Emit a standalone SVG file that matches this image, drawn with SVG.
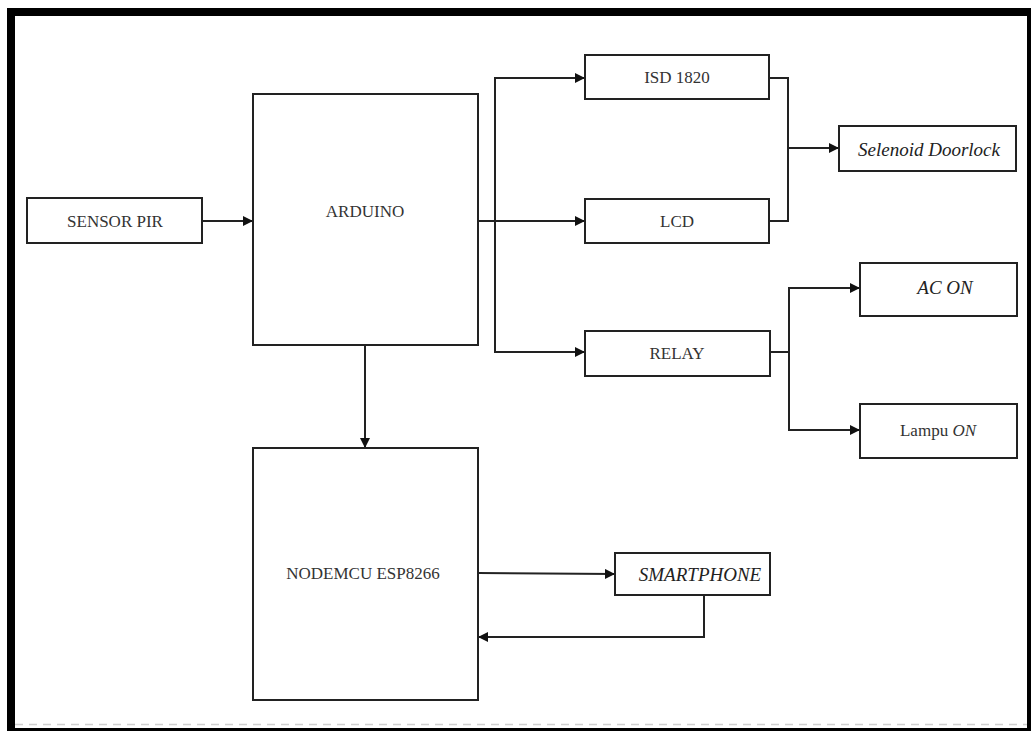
<svg xmlns="http://www.w3.org/2000/svg" width="1031" height="731" viewBox="0 0 1031 731">
<style>
.box{fill:#fff;stroke:#222;stroke-width:2}
.t{font-family:"Liberation Serif","Times New Roman",serif;font-size:17px;fill:#333;text-anchor:middle;dominant-baseline:central}
.i{font-style:italic;fill:#222;font-size:19px}
.c{fill:none;stroke:#222;stroke-width:2}
</style>
<defs>
<marker id="ah" viewBox="0 0 10 10" refX="10" refY="5" markerWidth="5" markerHeight="5" orient="auto" markerUnits="strokeWidth">
<path d="M0,0 L10,5 L0,10 z" fill="#111"/>
</marker>
</defs>
<rect width="1031" height="731" fill="#fff"/>
<g id="frame">
<rect x="7" y="8" width="1024" height="8" fill="#000"/>
<rect x="7" y="8" width="8" height="723" fill="#000"/>
<rect x="1027" y="8" width="4" height="723" fill="#000"/>
<rect x="7" y="728" width="1024" height="3" fill="#000"/>
<line x1="15" y1="724.5" x2="1027" y2="724.5" stroke="#d0d0d0" stroke-width="1.5" stroke-dasharray="8,6"/>
</g>
<g id="connectors">
<line class="c" x1="202" y1="221" x2="253" y2="221" marker-end="url(#ah)"/>
<line class="c" x1="478" y1="221" x2="585" y2="221" marker-end="url(#ah)"/>
<path class="c" d="M495,221 V78 H585" marker-end="url(#ah)"/>
<path class="c" d="M495,221 V352 H585" marker-end="url(#ah)"/>
<path class="c" d="M769,78 H788 V221 H769"/>
<line class="c" x1="788" y1="148" x2="839" y2="148" marker-end="url(#ah)"/>
<line class="c" x1="770" y1="352" x2="789" y2="352"/>
<path class="c" d="M789,352 V288 H860" marker-end="url(#ah)"/>
<path class="c" d="M789,352 V430 H860" marker-end="url(#ah)"/>
<line class="c" x1="365" y1="345" x2="365" y2="448" marker-end="url(#ah)"/>
<line class="c" x1="478" y1="573" x2="615" y2="574" marker-end="url(#ah)"/>
<path class="c" d="M704,595 V637 H478" marker-end="url(#ah)"/>
</g>
<g id="sensor-pir"><rect class="box" x="27" y="198" width="175" height="45"/><text class="t" x="115" y="221">SENSOR PIR</text></g>
<g id="arduino"><rect class="box" x="253" y="94" width="225" height="251"/><text class="t" x="365" y="211">ARDUINO</text></g>
<g id="isd1820"><rect class="box" x="585" y="55" width="184" height="44"/><text class="t" x="677" y="77">ISD 1820</text></g>
<g id="lcd"><rect class="box" x="585" y="199" width="184" height="44"/><text class="t" x="677" y="221">LCD</text></g>
<g id="selenoid"><rect class="box" x="839" y="126" width="177" height="45"/><text class="t i" x="929" y="149">Selenoid Doorlock</text></g>
<g id="relay"><rect class="box" x="585" y="331" width="185" height="45"/><text class="t" x="677" y="353">RELAY</text></g>
<g id="ac-on"><rect class="box" x="860" y="263" width="157" height="53"/><text class="t i" x="945" y="287">AC ON</text></g>
<g id="lampu-on"><rect class="box" x="860" y="404" width="157" height="54"/><text class="t" x="938" y="430" fill="#222" font-size="19">Lampu <tspan font-style="italic">ON</tspan></text></g>
<g id="nodemcu"><rect class="box" x="253" y="448" width="225" height="252"/><text class="t" x="363" y="573">NODEMCU ESP8266</text></g>
<g id="smartphone"><rect class="box" x="615" y="553" width="155" height="42"/><text class="t i" x="700" y="574">SMARTPHONE</text></g>
</svg>
